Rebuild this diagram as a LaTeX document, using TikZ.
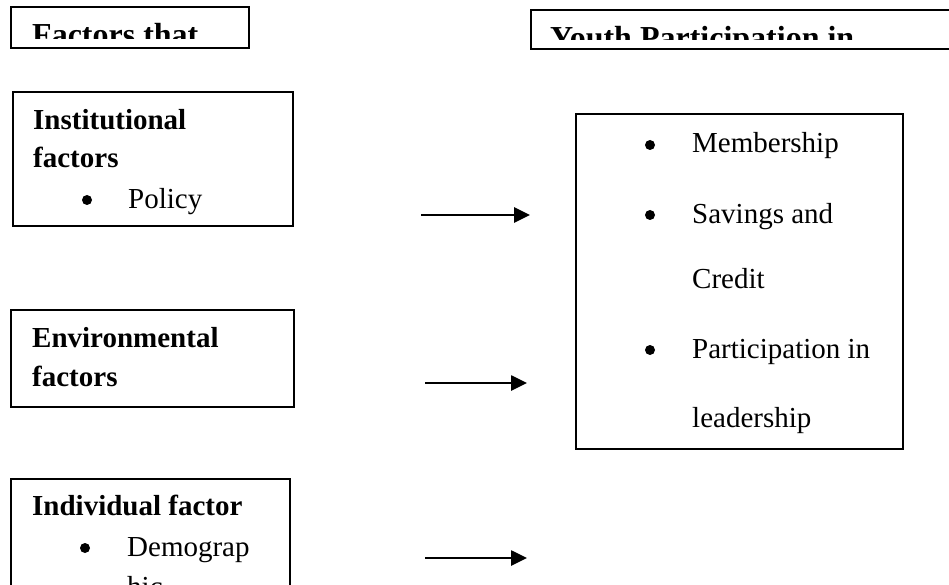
\documentclass[tikz,border=0pt]{standalone}
\usepackage{fontspec}
\setmainfont{Liberation Serif}
\usetikzlibrary{arrows.meta,positioning}

\begin{document}
\begin{tikzpicture}[x=1pt, y=-1pt,
    box/.style={rectangle, draw=black, line width=1.8pt, anchor=north west, inner sep=0pt},
    txt/.style={anchor=base west, inner sep=0pt, font=\fontsize{29}{39}\selectfont},
    head/.style={txt, font=\fontsize{29}{39}\selectfont\bfseries},
    title/.style={txt, font=\fontsize{32}{39}\selectfont\bfseries},
    dot/.style={circle, fill=black, inner sep=0pt, minimum size=10pt},
    arr/.style={-{Triangle[length=16pt, width=15pt]}, line width=2.6pt}
]
    \useasboundingbox (0,0) rectangle (949,585);
    \clip (0,0) rectangle (949,585);

    % Title boxes (text cut off at the bottom)
    \node[box, minimum width=238pt, minimum height=41pt] (factors) at (10,6) {};
    \node[box, minimum width=440pt, minimum height=39pt] (youth) at (530,9) {};
    \begin{scope}
        \clip (factors.north west) rectangle ([yshift=10pt]factors.south east);
        \node[title] (factorst) at (32,46) {Factors that};
    \end{scope}
    \begin{scope}
        \clip (youth.north west) rectangle ([yshift=10pt]youth.south east);
        \node[title] (youtht) at (550,49) {Youth Participation in};
    \end{scope}

    % Factor boxes
    \node[box, minimum width=280pt, minimum height=134pt] (inst) at (12,91) {};
    \node[head] (instt) at (33,130) {Institutional};
    \node[head] (instf) at (33,168) {factors};
    \node[dot] (instd) at (87,200) {};
    \node[txt] (policy) at (128,208) {Policy};

    \node[box, minimum width=283pt, minimum height=97pt] (env) at (10,309) {};
    \node[head] (envt) at (32,347) {Environmental};
    \node[head] (envf) at (32,386) {factors};

    \node[box, minimum width=279pt, minimum height=200pt] (indiv) at (10,478) {};
    \node[head] (indivt) at (32,515) {Individual factor};
    \node[dot] (indivd) at (85,548) {};
    \node[txt] (demo) at (127,556) {Demograp};
    \node[txt] (demo2) at (127,596) {hic};

    % Participation box
    \node[box, minimum width=327pt, minimum height=335pt] (part) at (575,113) {};
    \node[dot] (d1) at (650,145) {};
    \node[txt] (member) at (692,153) {Membership};
    \node[dot] (d2) at (650,215) {};
    \node[txt] (savings) at (692,223) {Savings and};
    \node[txt] (credit) at (692,288) {Credit};
    \node[dot] (d3) at (650,350) {};
    \node[txt] (partin) at (692,358) {Participation in};
    \node[txt] (leader) at (692,427) {leadership};

    % Arrows
    \coordinate (a1) at (421,215);
    \coordinate (b1) at (530,215);
    \coordinate (a2) at (425,383);
    \coordinate (b2) at (527,383);
    \coordinate (a3) at (425,558);
    \coordinate (b3) at (527,558);
    \draw[arr] (a1) -- (b1);
    \draw[arr] (a2) -- (b2);
    \draw[arr] (a3) -- (b3);

\end{tikzpicture}
\end{document}
